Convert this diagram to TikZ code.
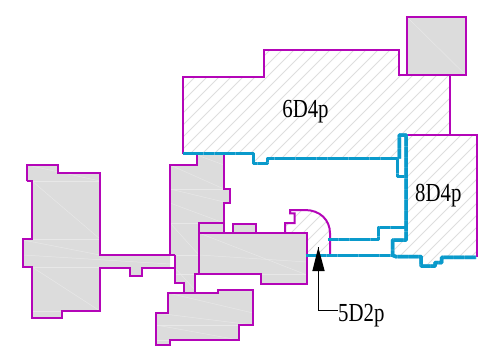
\documentclass[tikz,border=0pt]{standalone}
\usepackage{fontspec}
\setmainfont[FakeStretch=0.8]{Liberation Serif}
\definecolor{wallm}{HTML}{B405B8}
\definecolor{wallb}{HTML}{0A9ACB}
\definecolor{seam}{HTML}{4DB2D8}
\definecolor{solidg}{HTML}{DCDCDC}
\definecolor{hatchg}{HTML}{DEDEDE}
\def\pLeft{(27,165) -- (57.5,165) -- (57.5,172.7) -- (100,172.7) -- (100,255) -- (170,255) -- (170,268) -- (142.3,268) -- (142.3,276.3) -- (130,276.3) -- (130,268) -- (100,268) -- (100,310.7) -- (62.3,310.7) -- (62.3,318) -- (32.3,318) -- (32.3,267.3) -- (23.3,267.3) -- (23.3,239.3) -- (32.3,239.3) -- (32.3,181.3) -- (27,181.3) -- cycle}
\def\pMid{(197.3,153.7) -- (197.3,165) -- (169.7,165) -- (169.7,255) -- (175,255) -- (175,283.3) -- (183.7,283.3) -- (183.7,292.7) -- (195.3,292.7) -- (195.3,274.3) -- (199.3,274.3) -- (199.3,223.3) -- (224,223.3) -- (224,202.7) -- (230,202.7) -- (230,188.7) -- (224,188.7) -- (224,153.7) -- cycle}
\def\pHall{(199.3,233) -- (199.3,223.3) -- (224,223.3) -- (224,233) -- (233.3,233) -- (233.3,224.3) -- (255.7,224.3) -- (255.7,233) -- (307.3,233) -- (307.3,284.3) -- (261,284.3) -- (261,274.3) -- (199.3,274.3) -- cycle}
\def\pLow{(167.7,292.7) -- (217.7,292.7) -- (217.7,289.7) -- (252.7,289.7) -- (252.7,325) -- (238.7,325) -- (238.7,340) -- (170,340) -- (170,344.7) -- (156,344.7) -- (156,312.7) -- (167.7,312.7) -- cycle}
\def\pSq{(406.7,16.7) -- (465.7,16.7) -- (465.7,75) -- (406.7,75) -- cycle}
\def\pTop{(182.7,153.7) -- (182.7,76.7) -- (264,76.7) -- (264,50) -- (399,50) -- (399,75) -- (449.8,75) -- (449.8,135) -- (399.3,135) -- (399.3,158.7) -- (267.3,158.7) -- (267.3,163.3) -- (253.3,163.3) -- (253.3,153.7) -- cycle}
\def\pEast{(406,135) -- (477,135) -- (477,257.3) -- (441.7,257.3) -- (441.7,262.7) -- (435,262.7) -- (435,266) -- (421.7,266) -- (421.7,256.7) -- (392.7,255.3) -- (392.7,240) -- (406,240) -- cycle}
\def\pQuart{(285,233) -- (285,223) -- (294.7,223) -- (294.7,213.3) -- (290,213.3) -- (290,210) -- (305,210) .. controls (320,210) and (330,220) .. (330,233.3) -- (330,255) -- (307.3,255) -- (307.3,233) -- cycle}
\tikzset{
  solidpart/.style={fill=solidg},
  wallline/.style={draw=wallm,line width=2pt,line join=miter},
  hatchline/.style={draw=hatchg,line width=0.8pt},
  streak/.style={draw=white!35!solidg,line width=0.5pt},
  bluebase/.style={draw=seam,line width=3.5pt,line join=round},
  bluewall/.style={draw=wallb,line width=3.5pt,dash pattern=on 10pt off 0.6pt,line join=round},
  lbl/.style={font=\fontsize{26}{26}\selectfont,inner sep=0pt,text=black},
  leaderline/.style={draw=black,line width=0.9pt}
}
\newcommand{\hatching}{\foreach \k in {0,12,...,960} {\draw[hatchline] (\k-200,400) -- (\k+250,-50);}}
\newcommand{\bluerun}[1]{\draw[bluebase] #1; \draw[bluewall] #1;}
\begin{document}
\begin{tikzpicture}[x=1pt,y=-1pt]
\useasboundingbox (0,0) rectangle (478,350);
% solid parts
\fill[solidpart] \pLeft;
\fill[solidpart] \pMid;
\fill[solidpart] \pHall;
\fill[solidpart] \pLow;
\fill[solidpart] \pSq;
% faint streaks
\begin{scope}
\clip \pLeft;
\foreach \a/\b in {{27,165}/{100,181},{27,181}/{100,181},{32,181}/{100,239},{32,239}/{100,239},{23,240}/{100,255},{23,255}/{170,264},{23,267}/{100,267},{32,267}/{100,311},{32,311}/{62,311}}
  {\draw[streak] (\a) -- (\b);}
\end{scope}
\begin{scope}
\clip \pMid;
\foreach \a/\b in {{170,165}/{224,189},{170,189}/{224,189},{170,189}/{224,202},{170,203}/{224,223},{170,223}/{224,223},{170,223}/{199,255},{170,255}/{199,255},{175,274}/{195,274},{175,268}/{195,290},{197,155}/{224,165}}
  {\draw[streak] (\a) -- (\b);}
\end{scope}
\begin{scope}
\clip \pHall;
\foreach \a/\b in {{199,233}/{307,275},{199,255}/{307,262},{199,274}/{261,274},{261,274}/{307,274}}
  {\draw[streak] (\a) -- (\b);}
\end{scope}
\begin{scope}
\clip \pLow;
\foreach \a/\b in {{168,293}/{253,313},{156,313}/{253,325},{156,325}/{239,325},{156,325}/{239,340},{156,340}/{170,340}}
  {\draw[streak] (\a) -- (\b);}
\end{scope}
\begin{scope}
\clip \pSq;
\draw[streak] (406.7,16.7) -- (465.7,75);
\end{scope}
% hatched parts
\begin{scope}\clip \pTop; \hatching \end{scope}
\begin{scope}\clip \pEast; \hatching \end{scope}
\begin{scope}\clip \pQuart; \hatching \end{scope}
% magenta outlines
\draw[wallline] (27,181.3) -- (27,165) -- (57.5,165) -- (57.5,172.7) -- (100,172.7) -- (100,255) -- (175,255);
\draw[wallline] (175,268) -- (142.3,268) -- (142.3,276.3) -- (130,276.3) -- (130,268) -- (100,268) -- (100,310.7) -- (62.3,310.7) -- (62.3,318) -- (32.3,318) -- (32.3,267.3) -- (23.3,267.3) -- (23.3,239.3) -- (32.3,239.3) -- (32.3,181.3) -- (27,181.3);
\draw[wallline] (197.3,153.7) -- (197.3,165) -- (169.7,165) -- (169.7,255);
\draw[wallline] (175,255) -- (175,283.3) -- (183.7,283.3) -- (183.7,292.7);
\draw[wallline] (195.3,292.7) -- (195.3,274.3) -- (199.3,274.3);
\draw[wallline] (224,153.7) -- (224,188.7) -- (230,188.7) -- (230,202.7) -- (224,202.7) -- (224,233);
\draw[wallline] \pHall;
\draw[wallline] (199.3,233) -- (307.3,233);
\draw[wallline] \pLow;
\draw[wallline] \pSq;
\draw[wallline] (182.7,153.7) -- (182.7,76.7) -- (264,76.7) -- (264,50) -- (399,50) -- (399,75) -- (449.8,75) -- (449.8,135);
\draw[wallline] (399.3,135) -- (477,135) -- (477,257.3);
\draw[wallline] (285,233) -- (285,223) -- (294.7,223) -- (294.7,213.3) -- (290,213.3) -- (290,210) -- (305,210) .. controls (320,210) and (330,220) .. (330,233.3) -- (330,255);
% blue walls
\bluerun{(182.7,153.7) -- (253.3,153.7) -- (253.3,163.3) -- (267.3,163.3) -- (267.3,158.7) -- (397.3,158.7) -- (397.3,176.7) -- (406,176.7)}
\bluerun{(399.3,158.7) -- (399.3,135) -- (406,135) -- (406,240) -- (392.7,240) -- (392.7,255.3) -- (396,256.7) -- (421.2,256.7) -- (421.2,266) -- (435,266) -- (435,262.7) -- (441.7,262.7) -- (441.7,257.3) -- (476,257.3)}
\bluerun{(328.3,239.3) -- (378.3,239.3) -- (378.3,227.3) -- (406,227.3)}
\bluerun{(305.7,255.3) -- (392.7,255.3)}
% labels and arrow
\node[lbl] (six) at (305.5,112) {6D4p};
\node[lbl] (eight) at (438.3,196) {8D4p};
\node[lbl,anchor=west] (five) at (338,315.5) {5D2p};
\coordinate (tip) at (318.3,247.3);
\draw[leaderline] (tip) |- (337.7,310.3);
\fill[black] (tip) -- (324.7,271) -- (312.3,271) -- cycle;
\end{tikzpicture}
\end{document}
